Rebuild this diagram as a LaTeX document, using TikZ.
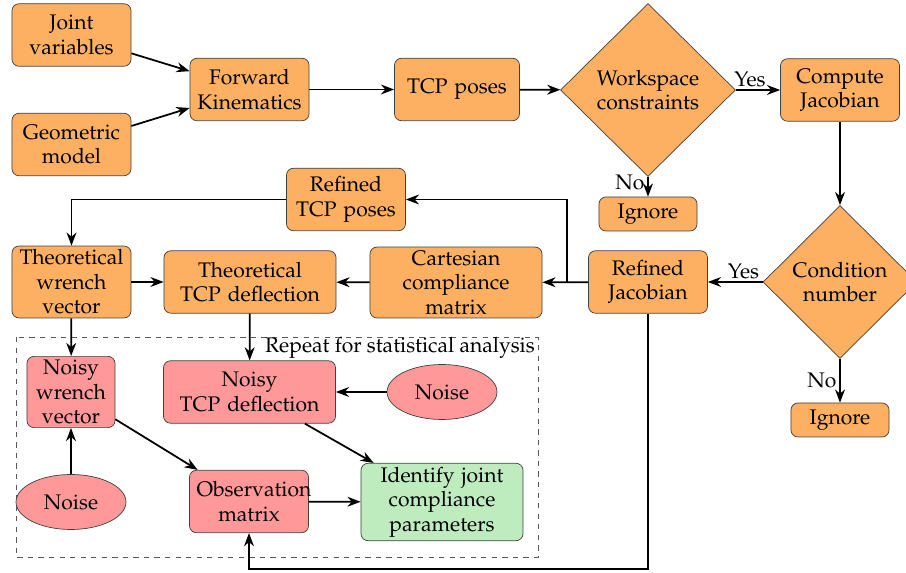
\documentclass[tikz,border=0pt]{standalone}
\usepackage[T1]{fontenc}
\usepackage{mathpazo}
\usepackage{xcolor}
\usepackage{tikz}
\usetikzlibrary{arrows.meta,positioning,shapes.geometric}

\definecolor{procfill}{RGB}{253,176,98}
\definecolor{noisyfill}{RGB}{255,153,153}
\definecolor{identfill}{RGB}{190,236,190}

\begin{document}
\begin{tikzpicture}[
    x=0.02cm, y=-0.02cm,
    every node/.style={font=\large},
    box/.style={draw=black!75, rounded corners=4pt, text width=2.1cm, align=center, inner xsep=4pt, inner ysep=2pt, minimum height=1.25cm},
    proc/.style={box, fill=procfill},
    noisy/.style={box, fill=noisyfill},
    ident/.style={box, fill=identfill},
    dec/.style={diamond, draw=black!75, fill=procfill, align=center, inner sep=0pt},
    noise/.style={ellipse, draw=black!75, fill=noisyfill, minimum width=2.2cm, minimum height=1.1cm, inner sep=0pt},
    frame/.style={draw=black!65, dashed},
    arr/.style={-{Stealth}, line width=1pt},
    lab/.style={inner sep=1.5pt},
  ]
  \useasboundingbox (0,0) rectangle (906,573);

  % forward kinematics chain
  \node[proc] (jv)   at (71.5,35)   {Joint\\variables};
  \node[proc] (geo)  at (71.5,144.5) {Geometric\\model};
  \node[proc] (fk)   at (249.5,89.5) {Forward\\Kinematics};
  \node[proc, text width=2.22cm] (tcp) at (457,89.5) {TCP poses};
  \node[dec, minimum width=3.5cm, minimum height=3.46cm] (ws) at (648,90) {Workspace\\constraints};
  \node[proc] (cjac) at (840,90) {Compute\\Jacobian};
  \node[proc, text width=1.68cm, minimum height=0.68cm] (ign1) at (648,214) {Ignore};
  \node[dec, minimum width=3.08cm, minimum height=3.06cm] (cond) at (840,282) {Condition\\number};
  \node[proc, text width=1.68cm, minimum height=0.68cm] (ign2) at (840,420) {Ignore};

  % compliance
  \node[proc] (rjac) at (648,282) {Refined\\Jacobian};
  \node[proc, text width=3.16cm] (cart) at (456,282.5) {Cartesian\\compliance\\matrix};
  \node[proc] (rtcp) at (346,199.5) {Refined\\TCP poses};
  \node[proc, text width=3.16cm] (ttd) at (250,282) {Theoretical\\TCP deflection};
  \node[proc] (twv)  at (71.5,282) {Theoretical\\wrench\\vector};
  \coordinate (split) at (567,282);
  \coordinate (loop)  at (648,569);

  % statistical loop
  \draw[frame] (16,337) rectangle (538,557);
  \node[anchor=north east, inner sep=0.5pt] (rep) at (536,336) {Repeat for statistical analysis};
  \node[noisy, text width=1.48cm] (nwv) at (71,392) {Noisy\\wrench\\vector};
  \node[noisy, text width=3.16cm] (ntd) at (249.5,392) {Noisy\\TCP deflection};
  \node[noise] (noiseR) at (442,392) {Noise};
  \node[noise] (noiseL) at (71,502) {Noise};
  \node[noisy] (obs) at (249,501.5) {Observation\\matrix};
  \node[ident, text width=2.96cm] (idc) at (442,502) {Identify joint\\compliance\\parameters};

  \draw[arr] (jv) -- (fk);
  \draw[arr] (geo) -- (fk);
  \draw[arr] (fk) -- (tcp);
  \draw[arr] (tcp) -- (ws);
  \draw[arr] (ws) -- node[lab, above, pos=0.32] {Yes} (cjac);
  \draw[arr] (ws) -- node[lab, left, pos=0.3] {No} (ign1);
  \draw[arr] (cjac) -- (cond);
  \draw[arr] (cond) -- node[lab, above, pos=0.35] {Yes} (rjac);
  \draw[arr] (cond) -- node[lab, left, pos=0.5] {No} (ign2);
  \draw[arr] (rjac) -- (cart);
  \draw[arr] (split) |- (rtcp);
  \draw[arr] (rtcp) -| (twv);
  \draw[arr] (twv) -- (ttd);
  \draw[arr] (cart) -- (ttd);
  \draw[arr] (twv) -- (nwv);
  \draw[arr] (ttd) -- (ntd);
  \draw[arr] (noiseR) -- (ntd);
  \draw[arr] (noiseL) -- (nwv);
  \draw[arr] (nwv) -- (obs);
  \draw[arr] (ntd) -- (idc);
  \draw[arr] (obs) -- (idc);
  \draw[arr] (rjac) -- (loop) -| (obs);
\end{tikzpicture}
\end{document}
